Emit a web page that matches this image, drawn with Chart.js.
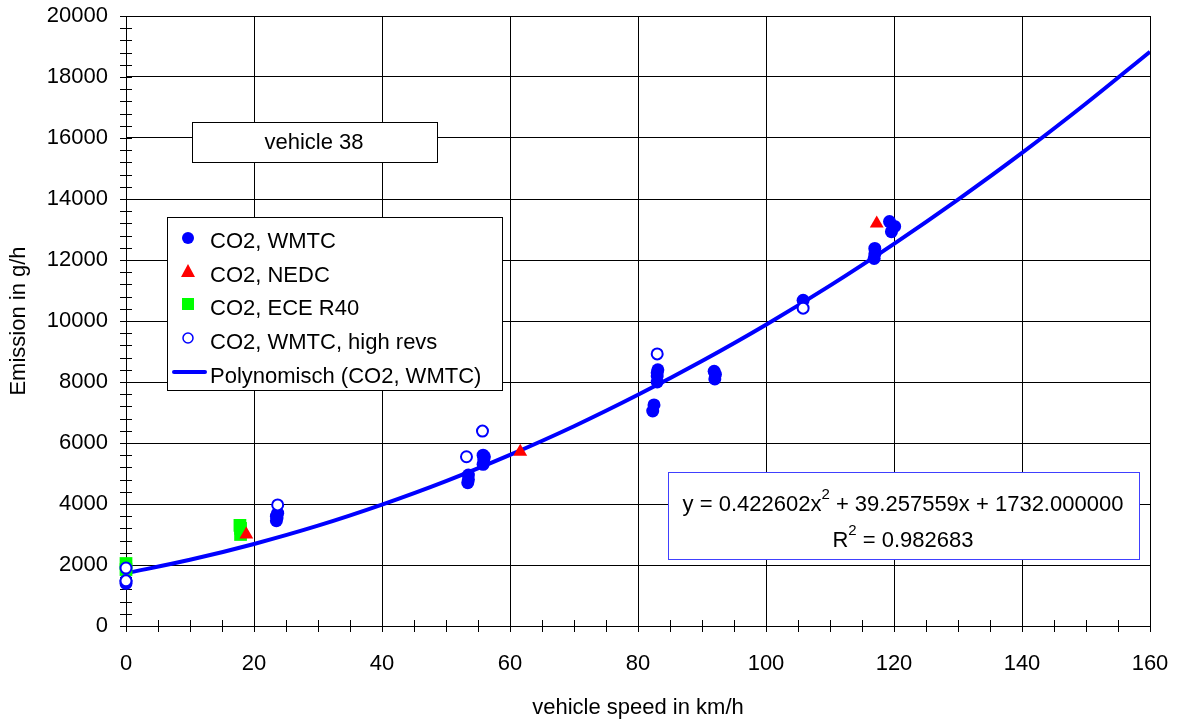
<!DOCTYPE html>
<html>
<head>
<meta charset="utf-8">
<script src="https://cdn.jsdelivr.net/npm/chart.js@4.4.0/dist/chart.umd.min.js"></script>
<style>
  html, body { margin: 0; padding: 0; background: #fff; }
  #wrap { width: 1178px; height: 722px; }
</style>
</head>
<body>
<div id="wrap"><canvas id="co2"></canvas></div>
<script>
// values (speed km/h, emission g/h)
var wmtcX = [0, 0, 23.5, 23.6, 23.7, 23.5, 53.4, 53.5, 53.5, 55.8, 55.9, 55.8, 56.0, 82.3, 82.5, 83.0, 83.0, 83.0, 83.1, 91.9, 92.1, 92.0, 105.8, 116.9, 117.0, 117.0, 119.3, 119.6, 120.1];
var wmtcY = [1400, 1480, 3450, 3550, 3700, 3600, 4700, 4800, 4950, 5300, 5450, 5600, 5550, 7050, 7250, 8000, 8200, 8300, 8400, 8350, 8250, 8100, 10680, 12050, 12200, 12380, 13260, 12930, 13100];
var nedcX = [18.8, 61.6, 117.3];
var nedcY = [3000, 5715, 13200];
var eceX = [0, 0, 17.9, 17.9, 17.8];
var eceY = [2050, 1850, 3000, 3200, 3300];
var highX = [0, 0, 23.7, 53.2, 55.7, 83.0, 105.8];
var highY = [1900, 1480, 3970, 5550, 6390, 8920, 10420];
var trendX = [0, 10, 20, 30, 40, 50, 60, 70, 80, 90, 100, 110, 120, 130, 140, 150, 160];
var trendY = [1730, 2170, 2690, 3290, 3980, 4750, 5610, 6550, 7580, 8690, 9880, 11160, 12530, 13980, 15510, 17130, 18830];
var xTicks = [0, 20, 40, 60, 80, 100, 120, 140, 160];
var yTicks = [0, 2000, 4000, 6000, 8000, 10000, 12000, 14000, 16000, 18000, 20000];

var labels = ['CO2, WMTC', 'CO2, NEDC', 'CO2, ECE R40', 'CO2, WMTC, high revs', 'Polynomisch (CO2, WMTC)'];
var boxLabel = 'vehicle 38';
var eqLine1 = 'y = 0.422602x';
var eqLine1b = ' + 39.257559x + 1732.000000';
var eqLine2 = 'R';
var eqLine2b = ' = 0.982683';

var FAMILY = '"Liberation Sans", Arial, sans-serif';
var FONT = '22px ' + FAMILY;
var BLUE = '#0000ff';

function pts(xs, ys) {
    return xs.map(function (x, i) { return { x: x, y: ys[i] }; });
}

// minor ticks, legend and the two text boxes
var extras = {
    id: 'extras',
    beforeDatasetsDraw: function (chart) {
        var c = chart.ctx, xs = chart.scales.x, ys = chart.scales.y;
        var a = chart.chartArea;
        c.save();
        c.strokeStyle = '#000';
        c.lineWidth = 1;
        c.beginPath();
        for (var v = 0; v <= 160; v += 5) {
            var px = Math.round(xs.getPixelForValue(v)) + 0.5;
            c.moveTo(px, a.bottom - 6);
            c.lineTo(px, a.bottom + 6);
        }
        for (var w = 0; w <= 20000; w += 400) {
            var py = Math.round(ys.getPixelForValue(w)) + 0.5;
            c.moveTo(a.left - 6, py);
            c.lineTo(a.left + 6, py);
        }
        c.stroke();
        c.restore();
    },
    afterDraw: function (chart) {
        var c = chart.ctx;
        c.save();
        c.font = FONT;
        c.fillStyle = '#000';
        c.lineWidth = 1;

        // vehicle box
        c.fillStyle = '#fff';
        c.fillRect(192, 122, 245, 40);
        c.strokeStyle = '#000';
        c.strokeRect(192.5, 122.5, 245, 40);
        c.fillStyle = '#000';
        c.textAlign = 'center';
        c.textBaseline = 'middle';
        c.fillText(boxLabel, 314, 143);

        // legend
        c.fillStyle = '#fff';
        c.fillRect(167, 217, 335, 173);
        c.strokeStyle = '#000';
        c.strokeRect(167.5, 217.5, 335, 173);
        c.textAlign = 'left';
        var rows = [240, 274, 307, 341, 375];
        var mx = 188;
        // filled circle
        c.fillStyle = BLUE;
        c.beginPath(); c.arc(mx, rows[0] - 2, 6, 0, Math.PI * 2); c.fill();
        // triangle
        c.fillStyle = '#ff0000';
        c.beginPath();
        c.moveTo(mx, rows[1] - 10); c.lineTo(mx + 7, rows[1] + 3); c.lineTo(mx - 7, rows[1] + 3);
        c.closePath(); c.fill();
        // square
        c.fillStyle = '#00ff00';
        c.fillRect(mx - 6, rows[2] - 9, 12, 12);
        // open circle
        c.strokeStyle = BLUE; c.lineWidth = 1.5; c.fillStyle = '#fff';
        c.beginPath(); c.arc(mx, rows[3] - 3, 5, 0, Math.PI * 2); c.fill(); c.stroke();
        // line
        c.lineWidth = 4; c.lineCap = 'round';
        c.beginPath(); c.moveTo(174, rows[4] - 3); c.lineTo(205, rows[4] - 3); c.stroke();
        c.fillStyle = '#000';
        for (var i = 0; i < labels.length; i++) {
            c.fillText(labels[i], 210, rows[i] + 2);
        }

        // equation box
        c.fillStyle = '#fff';
        c.fillRect(668, 472, 471, 87);
        c.strokeStyle = '#4040ff';
        c.lineWidth = 1;
        c.strokeRect(668.5, 472.5, 471, 87);
        c.fillStyle = '#000';
        c.textAlign = 'left';
        var sup = '15px ' + FAMILY;
        var w1 = c.measureText(eqLine1).width, w1b = c.measureText(eqLine1b).width;
        c.font = sup; var ws = c.measureText('2').width; c.font = FONT;
        var x1 = 903 - (w1 + ws + w1b) / 2;
        c.fillText(eqLine1, x1, 505);
        c.font = sup; c.fillText('2', x1 + w1, 495); c.font = FONT;
        c.fillText(eqLine1b, x1 + w1 + ws, 505);
        var w2 = c.measureText(eqLine2).width, w2b = c.measureText(eqLine2b).width;
        var x2 = 903 - (w2 + ws + w2b) / 2;
        c.fillText(eqLine2, x2, 541);
        c.font = sup; c.fillText('2', x2 + w2, 531); c.font = FONT;
        c.fillText(eqLine2b, x2 + w2 + ws, 541);
        c.restore();
    }
};

var ctx = document.getElementById('co2').getContext('2d');
var chart = new Chart(ctx, {
    type: 'scatter',
    data: {
        datasets: [{
            label: labels[0],
            data: pts(wmtcX, wmtcY),
            pointStyle: 'circle', pointRadius: 6.5,
            backgroundColor: BLUE, borderColor: BLUE, borderWidth: 0,
            clip: false,
            order: 2
        }, {
            label: labels[1],
            data: pts(nedcX, nedcY),
            pointStyle: 'triangle', pointRadius: 8,
            backgroundColor: '#ff0000', borderColor: '#ff0000', borderWidth: 0,
            clip: false,
            order: 1
        }, {
            label: labels[2],
            data: pts(eceX, eceY),
            pointStyle: 'rect', pointRadius: 9,
            backgroundColor: '#00ff00', borderColor: '#00ff00', borderWidth: 0,
            clip: false,
            order: 3
        }, {
            label: labels[3],
            data: pts(highX, highY),
            pointStyle: 'circle', pointRadius: 5.5,
            backgroundColor: '#fff', borderColor: BLUE, borderWidth: 2,
            clip: false,
            order: 0
        }, {
            type: 'line',
            label: labels[4],
            data: pts(trendX, trendY),
            showLine: true, pointRadius: 0,
            borderColor: BLUE, borderWidth: 4,
            cubicInterpolationMode: 'monotone',
            fill: false,
            order: 4
        }]
    },
    options: {
        responsive: true,
        maintainAspectRatio: false,
        animation: false,
        events: [],
        layout: { padding: { top: 16, right: 28, left: 0, bottom: 0 } },
        plugins: { legend: { display: false }, tooltip: { enabled: false } },
        scales: {
            x: {
                type: 'linear', min: 0, max: 160,
                afterBuildTicks: function (s) { s.ticks = xTicks.map(function (v) { return { value: v }; }); },
                afterFit: function (s) { s.height = 96; s.paddingLeft = 0; s.paddingRight = 0; },
                grid: { color: '#000', lineWidth: 1, drawTicks: false },
                border: { color: '#000', width: 1 },
                ticks: { color: '#000', font: { family: FAMILY, size: 22 }, padding: 25, maxRotation: 0,
                    callback: function (v) { return String(v); } },
                title: { display: true, text: 'vehicle speed in km/h', color: '#000',
                    font: { family: FAMILY, size: 22 }, padding: { top: 4, bottom: 1 } }
            },
            y: {
                type: 'linear', min: 0, max: 20000,
                afterBuildTicks: function (s) { s.ticks = yTicks.map(function (v) { return { value: v }; }); },
                afterFit: function (s) { s.width = 126; s.paddingTop = 0; s.paddingBottom = 0; },
                grid: { color: '#000', lineWidth: 1, drawTicks: false },
                border: { color: '#000', width: 1 },
                ticks: { color: '#000', font: { family: FAMILY, size: 22 }, padding: 18,
                    callback: function (v) { return String(v); } },
                title: { display: true, text: 'Emission in g/h', color: '#000',
                    font: { family: FAMILY, size: 22 }, padding: { top: 6, bottom: 4 } }
            }
        }
    },
    plugins: [extras]
});
</script>
</body>
</html>
